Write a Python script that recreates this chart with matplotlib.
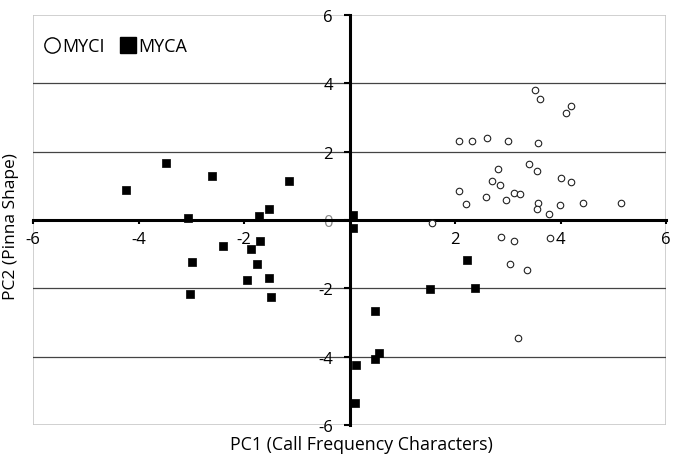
import matplotlib
matplotlib.use('Agg')
import matplotlib.pyplot as plt
from matplotlib.lines import Line2D
from matplotlib.patches import Rectangle

plt.rcParams['font.family'] = ['Open Sans', 'DejaVu Sans']

# MYCI (open circles)
myci_x = [3.52, 3.62, 4.19, 4.10, 2.08, 2.32, 2.61, 3.00, 3.58, 3.40, 2.82, 3.55,
          4.00, 4.20, 2.70, 2.85, 2.08, 3.12, 3.23, 2.59, 2.21, 2.97, 3.58, 3.55,
          3.99, 4.43, 5.15, 3.78, 1.56, 2.88, 3.12, 3.81, 3.05, 3.37, 3.20]
myci_y = [3.80, 3.53, 3.35, 3.12, 2.32, 2.31, 2.40, 2.31, 2.25, 1.63, 1.50, 1.42,
          1.22, 1.11, 1.15, 1.03, 0.84, 0.78, 0.75, 0.66, 0.48, 0.59, 0.50, 0.33,
          0.43, 0.51, 0.51, 0.18, -0.08, -0.49, -0.61, -0.54, -1.29, -1.47, -3.44]

# MYCA (filled squares)
myca_x = [-4.23, -3.47, -3.06, -2.98, -3.02, -2.60, -1.15, -1.52, -1.72, -2.39,
          -1.70, -1.87, -1.75, -1.53, -1.95, -1.49, 0.07, 0.06, 2.22, 1.53,
          2.38, 0.48, 0.55, 0.48, 0.13, 0.10]
myca_y = [0.88, 1.67, 0.07, -1.23, -2.18, 1.28, 1.15, 0.31, 0.11, -0.76,
          -0.61, -0.86, -1.30, -1.70, -1.76, -2.26, 0.14, -0.23, -1.16, -2.03,
          -2.00, -2.67, -3.89, -4.07, -4.24, -5.36]

xticks = [-6, -4, -2, 2, 4, 6]
yticks = [-6, -4, -2, 0, 2, 4, 6]

fig = plt.figure(figsize=(6.85, 4.56), dpi=100)
ax = fig.add_axes([33/685, 1 - 426/456, 633/685, 410/456])

ax.set_xlim(-6, 6)
ax.set_ylim(-6, 6)

# gridlines at +-2, +-4
for g in [-4, -2, 2, 4]:
    ax.axhline(g, color='#444444', lw=0.9, zorder=1)

# light gray frame
ax.add_patch(Rectangle((0, 0), 1, 1, transform=ax.transAxes, fill=False,
                       edgecolor='#c8c8c8', lw=1.2, zorder=0))

for s in ['top', 'right']:
    ax.spines[s].set_visible(False)
for s in ['left', 'bottom']:
    ax.spines[s].set_position('zero')
    ax.spines[s].set_linewidth(2.2)
    ax.spines[s].set_color('black')
    ax.spines[s].set_zorder(3)

ax.scatter(myci_x, myci_y, marker='o', s=22, facecolor='white',
           edgecolor='#222222', linewidths=0.8, zorder=4)
ax.scatter(myca_x, myca_y, marker='s', s=28, facecolor='black',
           edgecolor='black', linewidths=0.5, zorder=4)

ax.set_xticks(xticks)
ax.set_xticklabels([str(t) for t in xticks])
ax.set_yticks(yticks)
ylabs = ax.set_yticklabels([str(t) for t in yticks])
for t, lab in zip(yticks, ylabs):
    if t == 0:
        lab.set_fontsize(5)
        lab.set_color('#888888')
ax.tick_params(axis='x', direction='out', length=3, width=1.5, labelsize=12, pad=5)
ax.tick_params(axis='y', direction='out', length=4, width=1.5, labelsize=12, pad=8)

fig.text(11/685, 1 - 227/456, 'PC2 (Pinna Shape)', rotation=90,
         ha='center', va='center', fontsize=12.5)
fig.text(361/685, 1 - 445/456, 'PC1 (Call Frequency Characters)',
         ha='center', va='center', fontsize=12.8)

handles = [Line2D([], [], marker='o', ls='none', mfc='white', mec='black', ms=11, mew=1),
           Line2D([], [], marker='s', ls='none', mfc='black', mec='black', ms=11)]
ax.legend(handles, ['MYCI', 'MYCA'], loc='upper left', bbox_to_anchor=(0.005, 0.963),
          ncol=2, frameon=False, fontsize=13, handletextpad=0.05,
          columnspacing=0.8, handlelength=1.0, borderaxespad=0)

fig.savefig('out.png', dpi=100)
